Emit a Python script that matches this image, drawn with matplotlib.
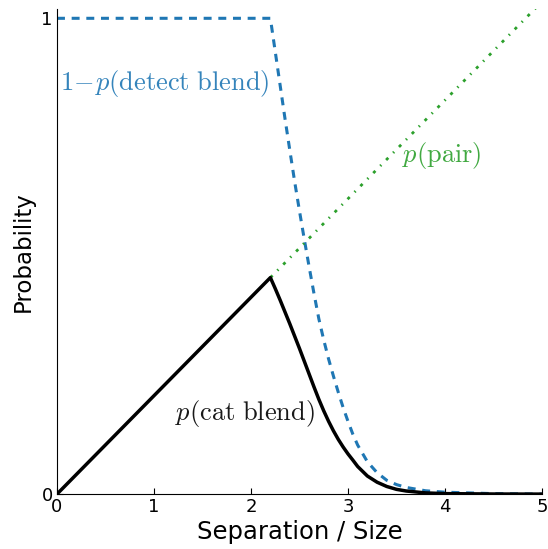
import numpy as np
import matplotlib
matplotlib.use("Agg")
import matplotlib.pyplot as plt

plt.rcParams['mathtext.fontset'] = 'cm'

# 1 - p(detect blend)
x_det = [0.0, 2.2, 2.25, 2.3, 2.35, 2.4, 2.45, 2.5, 2.55, 2.6, 2.65, 2.7, 2.75,
         2.8, 2.85, 2.9, 2.95, 3.0, 3.05, 3.1, 3.2, 3.3, 3.4, 3.5, 3.6, 3.8,
         4.0, 4.5, 5.0]
y_det = [1.0, 1.0, 0.93, 0.86, 0.79, 0.723, 0.657, 0.595, 0.535, 0.477, 0.421,
         0.368, 0.324, 0.284, 0.248, 0.214, 0.182, 0.153, 0.126, 0.103, 0.068,
         0.045, 0.029, 0.02, 0.014, 0.007, 0.004, 0.001, 0.0]

# p(cat blend)
x_cat = [0.0, 2.2, 2.25, 2.3, 2.35, 2.4, 2.45, 2.5, 2.55, 2.6, 2.65, 2.7, 2.75,
         2.8, 2.85, 2.9, 2.95, 3.0, 3.05, 3.1, 3.2, 3.3, 3.4, 3.5, 3.6, 3.8,
         4.0, 4.5, 5.0]
y_cat = [0.0, 0.455, 0.432, 0.408, 0.383, 0.358, 0.332, 0.306, 0.279, 0.252,
         0.225, 0.199, 0.175, 0.153, 0.133, 0.115, 0.099, 0.0845, 0.0715, 0.058,
         0.038, 0.025, 0.016, 0.010, 0.0065, 0.0025, 0.001, 0.0002, 0.0]

# p(pair), only drawn past the peak
x_pair = [2.2, 5.0]
y_pair = [0.455, 1.035]

fig = plt.figure(figsize=(5.48, 5.49), dpi=100)
ax = fig.add_axes([0.104, 0.100, 0.885, 0.884])

ax.plot(x_det, y_det, color='#1f77b4', linestyle=(0, (2.6, 2.2)), linewidth=2.2)
ax.plot(x_pair, y_pair, color='#2ca02c', linestyle=(0, (1.1, 2.5, 0.5, 2.5)),
        linewidth=2.0)
ax.plot(x_cat, y_cat, color='k', linewidth=2.5)

ax.text(0.03, 0.862, r'$1\!-\!p(\rm detect\ blend)$', color='#1f77b4',
        alpha=0.9, fontsize=19, va='center', ha='left')
ax.text(3.556, 0.712, r'$p(\rm pair)$', color='#2ca02c', alpha=0.9,
        fontsize=19, va='center', ha='left')
ax.text(1.216, 0.17, r'$p(\rm cat\ blend)$', color='k', alpha=0.9,
        fontsize=19, va='center', ha='left')

ax.set_xlim(0, 5)
ax.set_ylim(0, 1.02)
ax.set_xticks([0, 1, 2, 3, 4, 5])
ax.set_yticks([0, 1])
ax.spines['top'].set_visible(False)
ax.spines['right'].set_visible(False)
ax.tick_params(direction='in', length=4, labelsize=13, pad=3)
ax.set_xlabel('Separation / Size', fontsize=17.5, labelpad=3)
ax.set_ylabel('Probability', fontsize=16.5, labelpad=5)

fig.savefig('out.png', dpi=100)
